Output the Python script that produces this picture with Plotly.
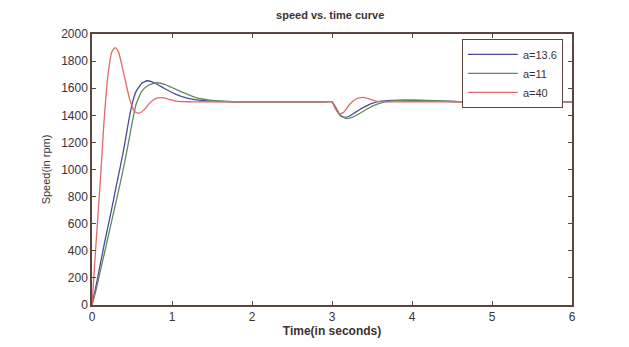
import plotly.graph_objects as go

# a = 13.6 (blue)
t_blue = [0, 0.05, 0.1, 0.15, 0.2, 0.25, 0.3, 0.35, 0.4, 0.45, 0.5, 0.55, 0.62, 0.69, 0.78, 0.9, 1.05, 1.2, 1.4,
          1.6, 1.8, 2.1, 2.4, 2.7, 2.9, 3.0, 3.05, 3.1, 3.15, 3.22, 3.3, 3.4, 3.5, 3.6, 3.75, 3.9, 4.1, 4.3, 4.5,
          4.7, 5.0, 5.4, 5.8, 6.0]
s_blue = [0, 140, 290, 440, 580, 720, 870, 1010, 1160, 1330, 1480, 1575, 1635, 1655, 1640, 1600, 1555, 1525, 1508,
          1502, 1500, 1500, 1500, 1500, 1500, 1500, 1450, 1400, 1385, 1395, 1425, 1460, 1488, 1502, 1510, 1512, 1510,
          1506, 1502, 1500, 1500, 1500, 1500, 1500]

# a = 11 (green)
t_green = [0, 0.05, 0.1, 0.15, 0.2, 0.25, 0.3, 0.35, 0.4, 0.45, 0.5, 0.55, 0.62, 0.7, 0.8, 0.9, 1.0, 1.15, 1.3,
           1.5, 1.7, 1.9, 2.2, 2.5, 2.8, 2.95, 3.0, 3.05, 3.1, 3.18, 3.25, 3.35, 3.45, 3.55, 3.65, 3.8, 4.0, 4.2,
           4.4, 4.6, 5.0, 5.4, 5.8, 6.0]
s_green = [0, 110, 240, 370, 500, 630, 760, 890, 1030, 1180, 1340, 1480, 1575, 1620, 1640, 1630, 1605, 1565, 1530,
           1510, 1502, 1500, 1500, 1500, 1500, 1500, 1500, 1455, 1405, 1375, 1385, 1415, 1450, 1478, 1497, 1508,
           1512, 1510, 1505, 1500, 1500, 1500, 1500, 1500]

# a = 40 (red)
t_red = [0, 0.05, 0.1, 0.15, 0.2, 0.25, 0.29, 0.33, 0.4, 0.47, 0.53, 0.58, 0.65, 0.72, 0.8, 0.88, 0.95, 1.05, 1.2,
         1.5, 1.9, 2.3, 2.7, 2.95, 3.0, 3.04, 3.09, 3.15, 3.22, 3.3, 3.38, 3.46, 3.55, 3.7, 4.0, 4.5, 5.0, 5.5, 6.0]
s_red = [0, 450, 880, 1350, 1700, 1870, 1900, 1870, 1700, 1520, 1430, 1415, 1440, 1490, 1525, 1530, 1520, 1505, 1500,
         1500, 1500, 1500, 1500, 1500, 1500, 1450, 1408, 1425, 1480, 1520, 1532, 1522, 1505, 1500, 1500, 1500, 1500,
         1500, 1500]

names = ["a=13.6", "a=11", "a=40"]
colors = ["#4a4a9c", "#5f8a5a", "#e06a6a"]

x_ticks = [0, 1, 2, 3, 4, 5, 6]
y_ticks = [0, 200, 400, 600, 800, 1000, 1200, 1400, 1600, 1800, 2000]

axis_col = "#5a463e"
text_col = "#3d3232"

fig = go.Figure()
for tt, ss, nm, col in zip([t_blue, t_green, t_red], [s_blue, s_green, s_red], names, colors):
    fig.add_trace(go.Scatter(x=tt, y=ss, mode="lines", name=nm,
                             line=dict(color=col, width=1.3, shape="spline", smoothing=0.5)))

fig.update_layout(
    width=629, height=347,
    margin=dict(l=92, r=57, t=34, b=34),
    paper_bgcolor="white", plot_bgcolor="white",
    font=dict(family="Liberation Sans, Arial, sans-serif", color=text_col, size=12),
    title=dict(text="<b>speed vs. time curve</b>", x=0.525, xanchor="center", y=0.955, yanchor="middle",
               font=dict(size=11, color=text_col)),
    showlegend=True,
    legend=dict(x=0.981, xanchor="right", y=0.982, yanchor="top",
                bgcolor="white", bordercolor=axis_col, borderwidth=1,
                font=dict(size=11, color=text_col), tracegroupgap=0,
                itemwidth=50),
)
fig.update_xaxes(range=[0, 6], tickvals=x_ticks, ticks="inside", ticklen=4, tickcolor=axis_col,
                 showline=True, linecolor=axis_col, linewidth=1.5, mirror="ticks", showgrid=False,
                 zeroline=False, tickfont=dict(size=12),
                 title=dict(text="<b>Time(in seconds)</b>", standoff=2, font=dict(size=12)))
fig.update_yaxes(range=[0, 2000], tickvals=y_ticks, ticks="inside", ticklen=4, tickcolor=axis_col,
                 showline=True, linecolor=axis_col, linewidth=1.5, mirror="ticks", showgrid=False,
                 zeroline=False, tickfont=dict(size=12),
                 title=dict(text="Speed(in rpm)", standoff=8, font=dict(size=11)))

fig.write_html("out.html")
